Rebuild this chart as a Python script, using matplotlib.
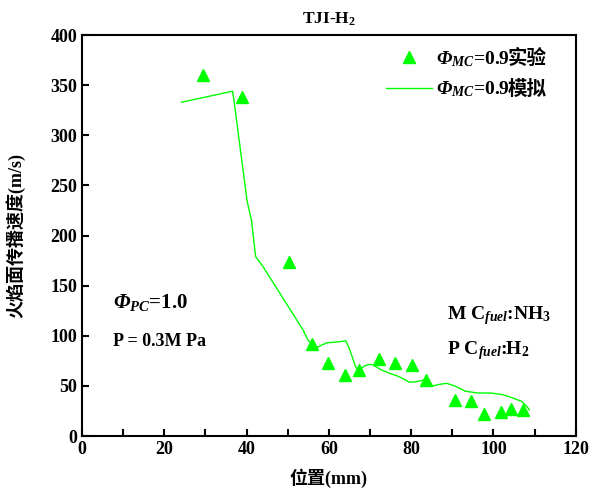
import matplotlib
matplotlib.use("Agg")
import matplotlib.pyplot as plt
from matplotlib.ticker import MultipleLocator
from matplotlib.transforms import IdentityTransform

plt.rcParams['font.family'] = ['Liberation Serif', 'Noto Sans CJK SC']
plt.rcParams['font.weight'] = 'bold'
plt.rcParams['mathtext.fontset'] = 'custom'
plt.rcParams['mathtext.rm'] = 'Liberation Serif:bold'
plt.rcParams['mathtext.it'] = 'Liberation Serif:italic:bold'
plt.rcParams['mathtext.bf'] = 'Liberation Serif:bold'
# italic capital greek (mathit forces greek capitals upright)
plt.rcParams['mathtext.cal'] = 'Liberation Serif:italic:bold'

# experiment points
exp_x = [29.4, 38.8, 50.2, 55.8, 59.9, 63.8, 67.4, 72.3, 76.0, 80.3, 83.5,
         90.6, 94.5, 97.8, 101.9, 104.3, 107.2]
exp_y = [360, 338, 174, 92, 73, 61, 66, 77, 73, 71, 56,
         36, 35, 22, 24, 27, 26]

# simulation line
sim_x = [24.2, 36.6, 37.0, 40.1, 41.2, 42.2, 44.0, 53.7, 54.9, 56.8, 59.5,
         62.5, 64.1, 65.0, 66.5, 67.2, 68.7, 69.9, 70.7, 72.7, 74.8, 77.2,
         79.6, 81.2, 83.3, 85.3, 86.9, 88.6, 90.7, 93.2, 96.1, 99.4, 102.3,
         104.8, 106.9, 108.2, 108.7]
sim_y = [333, 344, 333, 235, 215, 179, 169, 106, 96, 88, 93,
         94, 95, 87, 69, 65, 70, 71.5, 71, 66, 62.5, 59,
         53.6, 54.2, 56, 50, 51.5, 52.6, 49.8, 44.7, 42.9, 42.9, 41.2,
         37.8, 34.4, 29.2, 26]

green = '#00ff00'
phi_mc = r'$\mathcal{Φ}_{\mathit{MC}}$=0.9'
legend_cn = ['实验', '模拟']

fig = plt.figure(figsize=(6.01, 4.94), dpi=100)
ax = fig.add_axes([0.1364, 0.1174, 0.8216, 0.8116])

ax.plot(exp_x, exp_y, linestyle='none', marker='^', color=green, markersize=8,
        label=phi_mc)
ax.plot(sim_x, sim_y, color=green, linewidth=1, label=phi_mc)

ax.set_xlim(0, 120)
ax.set_ylim(0, 400)
ax.xaxis.set_major_locator(MultipleLocator(20))
ax.xaxis.set_minor_locator(MultipleLocator(10))
ax.yaxis.set_major_locator(MultipleLocator(50))
ax.tick_params(which='both', direction='in', labelsize=13, width=1.5, length=5)
for s in ax.spines.values():
    s.set_linewidth(1.5)

ax.set_title(r'TJI-H$_2$', fontsize=12.5, fontweight='bold', pad=8)
ax.set_xlabel('位置(mm)', fontsize=13, fontweight='bold', labelpad=8)
ax.set_ylabel('火焰面传播速度(m/s)', fontsize=13, fontweight='bold', labelpad=18)

leg = ax.legend(loc='upper left', bbox_to_anchor=(0.615, 0.965), frameon=False,
                fontsize=14, handlelength=2.4, handletextpad=0.2,
                borderaxespad=0, borderpad=0, labelspacing=0.55)

ax.text(0.062, 0.32, r'$\mathcal{Φ}_{\mathit{PC}}$=1.0', transform=ax.transAxes, fontsize=15)
ax.text(0.063, 0.225, 'P = 0.3M Pa', transform=ax.transAxes, fontsize=13)
ax.text(0.74, 0.29, r'M C$_{\mathit{fuel}}$:NH$_3$', transform=ax.transAxes, fontsize=14)
ax.text(0.74, 0.205, r'P C$_{\mathit{fuel}}$:H$_2$', transform=ax.transAxes, fontsize=14)

# add chinese part of legend labels right after the mathtext part
fig.canvas.draw()
r = fig.canvas.get_renderer()
for t, cn in zip(leg.get_texts(), legend_cn):
    bb = t.get_window_extent(r)
    _, yb = t.get_transform().transform(t.get_position())
    fig.text(bb.x1 - 3, yb, cn, transform=IdentityTransform(), fontsize=14,
             fontweight='bold', va='baseline', ha='left',
             family=['Noto Sans CJK SC'])

fig.savefig('out.png', dpi=100)
